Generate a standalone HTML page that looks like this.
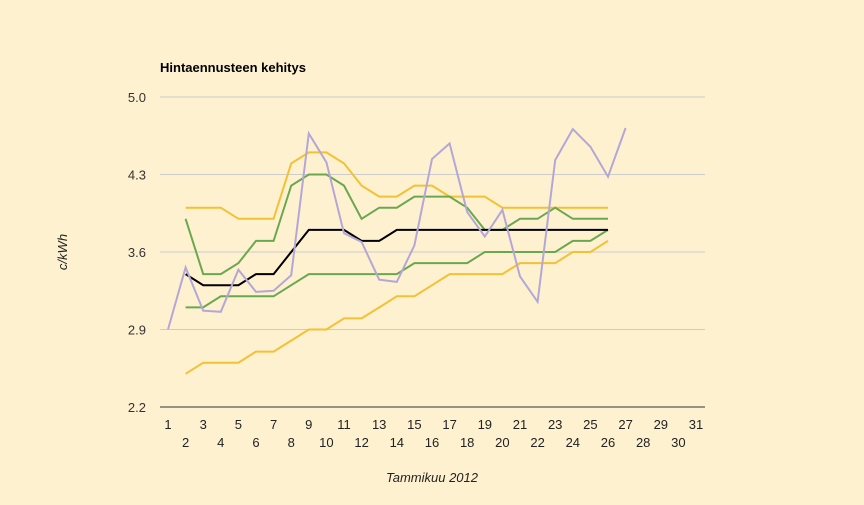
<!DOCTYPE html>
<html><head><meta charset="utf-8"><style>
body{margin:0;background:#fef1d0;}
svg{display:block;font-family:"Liberation Sans",sans-serif;}
</style></head><body>
<svg id="chart" width="864" height="505" viewBox="0 0 864 505">
<rect x="0" y="0" width="864" height="505" fill="#fef1d0"/>
<text x="160" y="72" font-size="13" font-weight="bold" fill="#000">Hintaennusteen kehitys</text>
<text transform="translate(67,252) rotate(-90)" text-anchor="middle" font-size="13" font-style="italic" fill="#222">c/kWh</text>
<text x="432" y="482" text-anchor="middle" font-size="13" font-style="italic" fill="#222">Tammikuu 2012</text>
<g id="grid"></g><g id="series"></g><g id="labels"></g>
</svg>
<script>
const days = Array.from({length:31},(_,i)=>i+1);
const yTicks = [2.2,2.9,3.6,4.3,5.0];
const yellowHigh = [null,4.0,4.0,4.0,3.9,3.9,3.9,4.4,4.5,4.5,4.4,4.2,4.1,4.1,4.2,4.2,4.1,4.1,4.1,4.0,4.0,4.0,4.0,4.0,4.0,4.0];
const greenHigh = [null,3.9,3.4,3.4,3.5,3.7,3.7,4.2,4.3,4.3,4.2,3.9,4.0,4.0,4.1,4.1,4.1,4.0,3.8,3.8,3.9,3.9,4.0,3.9,3.9,3.9];
const mean = [null,3.4,3.3,3.3,3.3,3.4,3.4,3.6,3.8,3.8,3.8,3.7,3.7,3.8,3.8,3.8,3.8,3.8,3.8,3.8,3.8,3.8,3.8,3.8,3.8,3.8];
const greenLow = [null,3.1,3.1,3.2,3.2,3.2,3.2,3.3,3.4,3.4,3.4,3.4,3.4,3.4,3.5,3.5,3.5,3.5,3.6,3.6,3.6,3.6,3.6,3.7,3.7,3.8];
const yellowLow = [null,2.5,2.6,2.6,2.6,2.7,2.7,2.8,2.9,2.9,3.0,3.0,3.1,3.2,3.2,3.3,3.4,3.4,3.4,3.4,3.5,3.5,3.5,3.6,3.6,3.7];
const actual = [2.9,3.46,3.07,3.06,3.44,3.24,3.25,3.39,4.67,4.41,3.77,3.69,3.35,3.33,3.66,4.44,4.58,3.96,3.74,3.98,3.38,3.15,4.43,4.71,4.55,4.28,4.72];
const NS="http://www.w3.org/2000/svg";
const xS = d => 168 + (d-1)*17.6;
const yS = v => 407 - (v-2.2)*(310/2.8);
const grid=document.getElementById('grid'), ser=document.getElementById('series'), lab=document.getElementById('labels');
yTicks.forEach(t=>{
  if(t>2.2){const l=document.createElementNS(NS,'line');
  l.setAttribute('x1',160);l.setAttribute('x2',705);l.setAttribute('y1',yS(t));l.setAttribute('y2',yS(t));
  l.setAttribute('stroke','#cccccc');l.setAttribute('stroke-width',1);
  
  
  grid.appendChild(l);}
  const tx=document.createElementNS(NS,'text');
  tx.setAttribute('x',146);tx.setAttribute('y',yS(t)+5);tx.setAttribute('text-anchor','end');tx.setAttribute('font-size','13');tx.setAttribute('fill','#333');
  tx.textContent=t.toFixed(1);
  
  
  lab.appendChild(tx);
});
const ax=document.createElementNS(NS,'line');
ax.setAttribute('x1',160);ax.setAttribute('x2',705);ax.setAttribute('y1',407);ax.setAttribute('y2',407);ax.setAttribute('stroke','#333');


grid.appendChild(ax);
days.forEach(d=>{
  const tx=document.createElementNS(NS,'text');
  tx.setAttribute('x',xS(d));tx.setAttribute('y',d%2?429:447);tx.setAttribute('text-anchor','middle');tx.setAttribute('font-size','13');tx.setAttribute('fill','#222');
  tx.textContent=d;
  
  
  lab.appendChild(tx);
});
function draw(arr,color,name){
  const pts=[];arr.forEach((v,i)=>{if(v!=null)pts.push(xS(i+1).toFixed(1)+','+yS(v).toFixed(1));});
  const p=document.createElementNS(NS,'polyline');
  p.setAttribute('points',pts.join(' '));p.setAttribute('fill','none');p.setAttribute('stroke',color);p.setAttribute('stroke-width',2);
  
  
  ser.appendChild(p);
}
draw(yellowLow,'#f3c134','series-yellow-low');
draw(yellowHigh,'#f3c134','series-yellow-high');
draw(greenLow,'#6aa84f','series-green-low');
draw(greenHigh,'#6aa84f','series-green-high');
draw(mean,'#000000','series-mean');
draw(actual,'#b4a7d6','series-actual');
</script>
</body></html>
